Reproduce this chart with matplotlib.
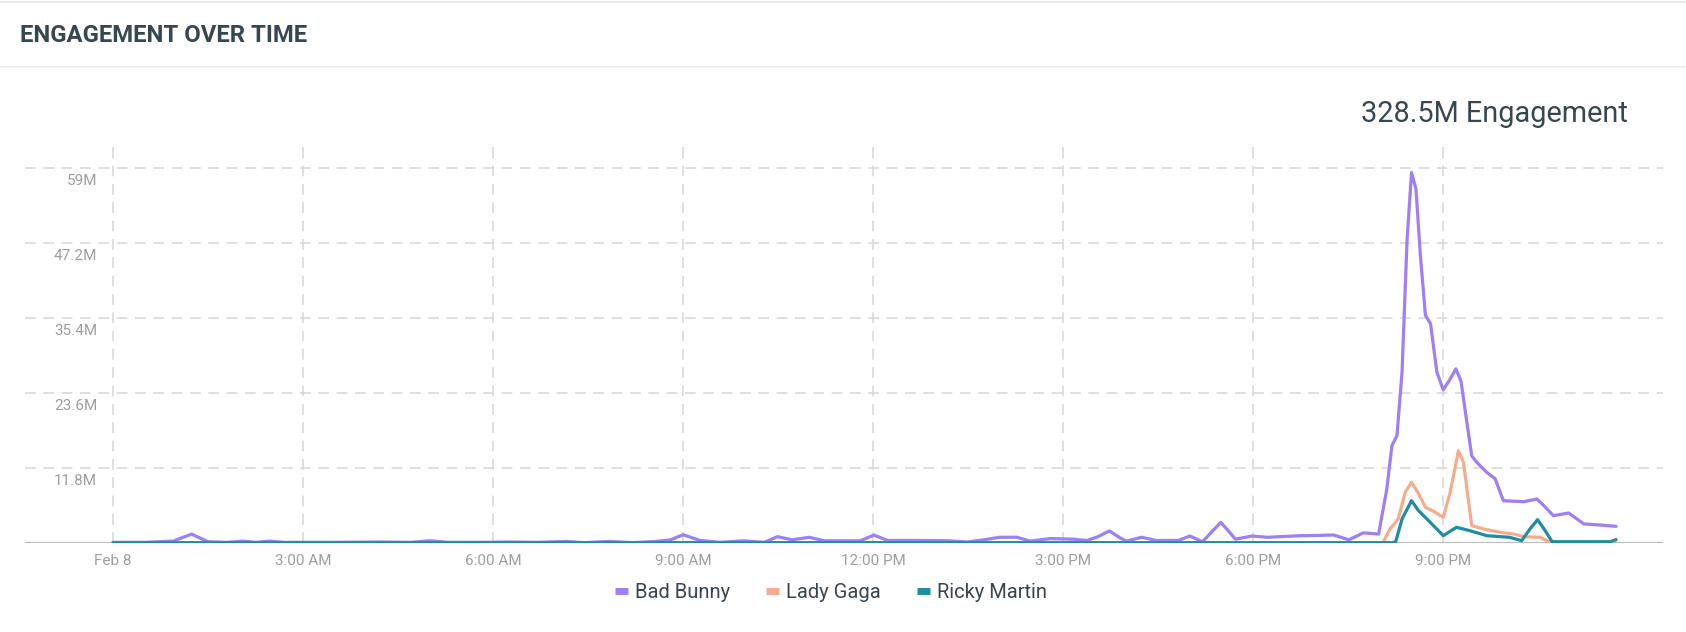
import matplotlib
matplotlib.use("Agg")
import matplotlib.pyplot as plt
from matplotlib.lines import Line2D
from matplotlib.transforms import offset_copy

plt.rcParams["font.family"] = ["Roboto", "DejaVu Sans"]

# hours since midnight Feb 8, values in millions
bad_bunny_hours = [0.0, 0.5, 0.95, 1.24, 1.5, 1.8, 2.05, 2.25, 2.47, 2.7, 3.35, 4.25, 4.7,
                   5.0, 5.3, 5.75, 6.27, 6.7, 7.16, 7.43, 7.84, 8.21, 8.58, 8.8, 9.0, 9.27,
                   9.59, 9.96, 10.28, 10.49, 10.72, 10.99, 11.23, 11.8, 12.01, 12.23, 12.76,
                   13.2, 13.48, 13.75, 14.0, 14.27, 14.48, 14.8, 15.16, 15.38, 15.55, 15.73,
                   15.9, 16.0, 16.24, 16.47, 16.82, 17.0, 17.2, 17.35, 17.49, 17.6, 17.72,
                   17.98, 18.22, 18.74, 19.06, 19.27, 19.51, 19.74, 19.98, 20.11, 20.19,
                   20.27, 20.35, 20.43, 20.5, 20.57, 20.64, 20.72, 20.8, 20.9, 21.0, 21.11,
                   21.2, 21.28, 21.45, 21.53, 21.69, 21.82, 21.95, 22.27, 22.48, 22.59,
                   22.74, 22.98, 23.22, 23.48, 23.73]
bad_bunny = [0.1, 0.1, 0.3, 1.4, 0.2, 0.1, 0.3, 0.1, 0.3, 0.1, 0.1, 0.15, 0.1,
             0.35, 0.1, 0.1, 0.15, 0.1, 0.25, 0.05, 0.25, 0.05, 0.25, 0.5, 1.3, 0.4,
             0.1, 0.35, 0.1, 1.0, 0.5, 0.9, 0.35, 0.35, 1.25, 0.4, 0.4,
             0.35, 0.15, 0.5, 0.9, 0.9, 0.3, 0.7, 0.6, 0.4, 1.0, 1.9,
             0.8, 0.3, 0.9, 0.4, 0.4, 1.1, 0.2, 1.8, 3.25, 2.0, 0.6,
             1.1, 0.9, 1.15, 1.2, 1.26, 0.5, 1.6, 1.4, 8.5, 15.3,
             16.9, 26.9, 47.8, 58.3, 55.7, 45.2, 35.8, 34.5, 26.9, 24.1, 25.8,
             27.4, 25.5, 13.7, 12.7, 11.1, 10.1, 6.66, 6.5, 6.92, 5.87,
             4.3, 4.72, 3.0, 2.83, 2.62]

lady_gaga_hours = [0.0, 20.0, 20.05, 20.16, 20.29, 20.4, 20.5, 20.6, 20.72, 20.83, 21.0,
                   21.11, 21.24, 21.32, 21.45, 21.64, 21.9, 22.11, 22.27, 22.53, 22.69, 23.73]
lady_gaga = [0.0, 0.0, 0.1, 2.2, 3.78, 7.97, 9.55, 7.97, 5.61, 5.09, 4.04,
             7.97, 14.5, 12.7, 2.73, 2.2, 1.68, 1.42, 1.0, 0.89, 0.1, 0.05]

ricky_martin_hours = [0.0, 20.2, 20.25, 20.35, 20.5, 20.61, 20.77, 21.0, 21.21, 21.42,
                      21.69, 22.05, 22.24, 22.37, 22.49, 22.61, 22.72, 23.64, 23.73]
ricky_martin = [0.05, 0.05, 0.2, 3.78, 6.66, 5.09, 3.51, 1.15, 2.47, 1.94,
                1.15, 0.89, 0.37, 2.2, 3.67, 1.94, 0.2, 0.2, 0.55]

y_ticks = [11.8, 23.6, 35.4, 47.2, 59]
y_labels = ["11.8M", "23.6M", "35.4M", "47.2M", "59M"]
x_ticks = [0, 3, 6, 9, 12, 15, 18, 21]
x_labels = ["Feb 8", "3:00 AM", "6:00 AM", "9:00 AM", "12:00 PM", "3:00 PM", "6:00 PM", "9:00 PM"]

series = [
    ("Bad Bunny", bad_bunny_hours, bad_bunny, "#9d7ffb"),
    ("Lady Gaga", lady_gaga_hours, lady_gaga, "#f5ab8c"),
    ("Ricky Martin", ricky_martin_hours, ricky_martin, "#1f8ca3"),
]

W, H = 1686, 632
fig = plt.figure(figsize=(W / 100, H / 100), dpi=100)

# card header
fig.add_artist(Line2D([0, 1], [1 - 1.5 / H, 1 - 1.5 / H], color="#e6e6e6", lw=1.2))
fig.add_artist(Line2D([0, 1], [1 - 67 / H, 1 - 67 / H], color="#ebebeb", lw=1.2))
fig.text(20 / W, 1 - 35 / H, "ENGAGEMENT OVER TIME", fontsize=17.2, fontweight="bold",
         color="#37474f", va="center", ha="left")
fig.text(1628 / W, 1 - 114 / H, "328.5M Engagement", fontsize=20.8, color="#37474f",
         va="center", ha="right")

ax = fig.add_axes([25 / W, 1 - 543 / H, (1663 - 25) / W, (543 - 142) / H])

for name, hrs, vals, col in series:
    ax.plot(hrs, vals, color=col, lw=2.3, solid_joinstyle="round", solid_capstyle="round",
            label=name, zorder=3)

ax.set_xlim(-1.39, 24.47)
ax.set_ylim(0, 63.1)

for v in y_ticks:
    ax.axhline(v, color="#d6d6d6", lw=1.1, ls=(0, (7, 5)), zorder=1)
for t in x_ticks:
    ax.axvline(t, color="#d6d6d6", lw=1.1, ls=(0, (7, 5)), zorder=1)
ax.axhline(0, color="#bdbdbd", lw=1.6, zorder=2)

# y labels sit just under their gridlines
lab_tr = offset_copy(ax.transData, fig=fig, x=0, y=-13, units="dots")
for v, lab in zip(y_ticks, y_labels):
    ax.text(-0.25, v, lab, transform=lab_tr, ha="right", va="center",
            fontsize=11, color="#9e9e9e")

ax.set_yticks([])
ax.set_xticks(x_ticks)
ax.set_xticklabels(x_labels)
ax.tick_params(axis="x", length=0, pad=8, labelsize=11, labelcolor="#9e9e9e")
for s in ax.spines.values():
    s.set_visible(False)

handles = [Line2D([], [], color=c, lw=5, solid_capstyle="butt") for _, _, _, c in series]
fig.legend(handles, [s[0] for s in series], loc="center", bbox_to_anchor=(831 / W, 1 - 593 / H),
           ncol=3, frameon=False, fontsize=14.5, handlelength=0.65, handletextpad=0.35,
           columnspacing=1.8, labelcolor="#37474f")

fig.savefig("out.png", dpi=100)
